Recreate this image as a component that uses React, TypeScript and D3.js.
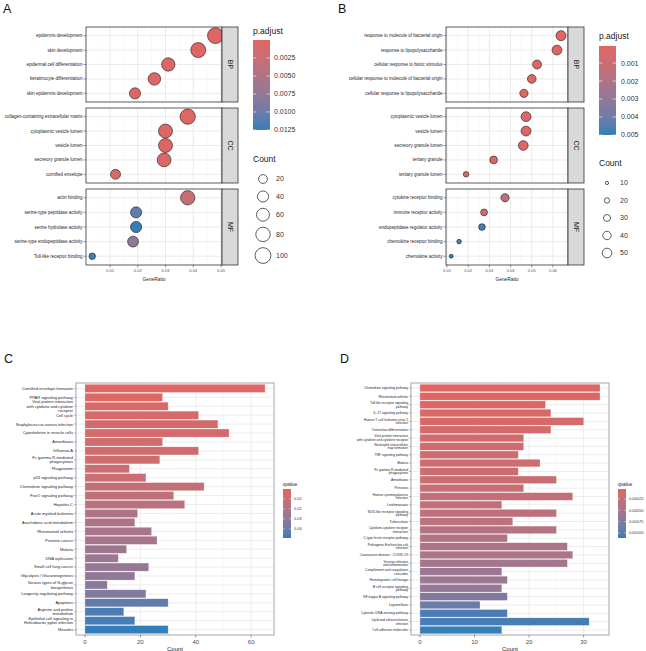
import React from 'react';
import * as d3 from 'd3';

const FONT = '"Liberation Sans", Arial, Helvetica, sans-serif';
const LOW = '#e06663';
const HIGH = '#327eba';
const ONTS = ['BP', 'CC', 'MF'];

// ---- panel A : GO dot plot ----
const aTerms = [
  'epidermis development', 'skin development', 'epidermal cell differentiation',
  'keratinocyte differentiation', 'skin epidermis development',
  'collagen-containing extracellular matrix', 'cytoplasmic vesicle lumen', 'vesicle lumen',
  'secretory granule lumen', 'cornified envelope',
  'actin binding', 'serine-type peptidase activity', 'serine hydrolase activity',
  'serine-type endopeptidase activity', 'Toll-like receptor binding',
];
const aOnt = ['BP', 'BP', 'BP', 'BP', 'BP', 'CC', 'CC', 'CC', 'CC', 'CC', 'MF', 'MF', 'MF', 'MF', 'MF'];
const aRatio = [0.048, 0.0418, 0.031, 0.026, 0.019, 0.038, 0.030, 0.030, 0.0295, 0.012, 0.038, 0.0194, 0.0194, 0.0183, 0.0036];
const aCount = [101, 88, 65, 55, 40, 92, 73, 73, 71, 29, 78, 40, 40, 37, 7];
const aPadj = [0.0001, 0.0002, 0.0003, 0.0004, 0.0005, 0.0002, 0.0004, 0.0004, 0.0005, 0.001, 0.0028, 0.0105, 0.0124, 0.0075, 0.0122];
const aRatioTicks = [0.01, 0.02, 0.03, 0.04, 0.05];
const aPadjTicks = [0.0025, 0.005, 0.0075, 0.01, 0.0125];
const aCountTicks = [20, 40, 60, 80, 100];

// ---- panel B : GO dot plot ----
const bTerms = [
  'response to molecule of bacterial origin', 'response to lipopolysaccharide',
  'cellular response to biotic stimulus', 'cellular response to molecule of bacterial origin',
  'cellular response to lipopolysaccharide',
  'cytoplasmic vesicle lumen', 'vesicle lumen', 'secretory granule lumen', 'tertiary granule',
  'tertiary granule lumen',
  'cytokine receptor binding', 'immune receptor activity', 'endopeptidase regulator activity',
  'chemokine receptor binding', 'chemokine activity',
];
const bOnt = aOnt;
const bRatio = [0.0638, 0.0619, 0.0525, 0.050, 0.0463, 0.0473, 0.0473, 0.046, 0.032, 0.019, 0.0374, 0.0275, 0.0265, 0.0157, 0.012];
const bCount = [54, 52, 44, 42, 39, 52, 52, 51, 35, 21, 39, 29, 28, 16, 13];
const bPadj = [0.0001, 0.0001, 0.0002, 0.0002, 0.0003, 0.0002, 0.0002, 0.0003, 0.0004, 0.0006, 0.0016, 0.0006, 0.0048, 0.0046, 0.0049];
const bRatioTicks = [0.01, 0.02, 0.03, 0.04, 0.05, 0.06];
const bPadjTicks = [0.001, 0.002, 0.003, 0.004, 0.005];
const bCountTicks = [10, 20, 30, 40, 50];

// ---- panel C : KEGG bar plot ----
const cTerms = [
  'Cornified envelope formation', 'PPAR signaling pathway',
  'Viral protein interaction\nwith cytokine and cytokine\nreceptor', 'Cell cycle',
  'Staphylococcus aureus infection', 'Cytoskeleton in muscle cells', 'Amoebiasis', 'Influenza A',
  'Fc gamma R-mediated\nphagocytosis', 'Phagosome', 'p53 signaling pathway',
  'Chemokine signaling pathway', 'FoxO signaling pathway', 'Hepatitis C', 'Acute myeloid leukemia',
  'Arachidonic acid metabolism', 'Rheumatoid arthritis', 'Prostate cancer', 'Malaria',
  'DNA replication', 'Small cell lung cancer', 'Glycolysis / Gluconeogenesis',
  'Various types of N-glycan\nbiosynthesis', 'Longevity regulating pathway', 'Apoptosis',
  'Arginine and proline\nmetabolism', 'Epithelial cell signaling in\nHelicobacter pylori infection', 'Measles',
];
const cCount = [65, 28, 30, 41, 48, 52, 28, 41, 27, 16, 22, 43, 32, 36, 19, 18, 24, 26, 15, 12, 23, 18, 8, 22, 30, 14, 18, 30];
const cQ = [0.0005, 0.002, 0.003, 0.004, 0.005, 0.0055, 0.006, 0.007, 0.008, 0.009, 0.010, 0.012, 0.013, 0.016, 0.020, 0.021, 0.022, 0.023, 0.025, 0.026, 0.028, 0.030, 0.032, 0.034, 0.042, 0.046, 0.047, 0.049];
const cCountTicks = [0, 20, 40, 60];
const cQTicks = [0.01, 0.02, 0.03, 0.04];

// ---- panel D : KEGG bar plot ----
const dTerms = [
  'Chemokine signaling pathway', 'Rheumatoid arthritis', 'Toll-like receptor signaling\npathway',
  'IL-17 signaling pathway', 'Human T-cell leukemia virus 1\ninfection', 'Osteoclast differentiation',
  'Viral protein interaction\nwith cytokine and cytokine receptor', 'Neutrophil extracellular\ntrap formation',
  'TNF signaling pathway', 'Malaria', 'Fc gamma R-mediated\nphagocytosis', 'Amoebiasis', 'Pertussis',
  'Human cytomegalovirus\ninfection', 'Leishmaniasis', 'NOD-like receptor signaling\npathway', 'Tuberculosis',
  'Cytokine-cytokine receptor\ninteraction', 'C-type lectin receptor pathway', 'Pathogenic Escherichia coli\ninfection',
  'Coronavirus disease - COVID-19', 'Yersinia infection\nand inflammation', 'Complement and coagulation\ncascades',
  'Hematopoietic cell lineage', 'B cell receptor signaling\npathway', 'NF-kappa B signaling pathway',
  'Legionellosis', 'Cytosolic DNA-sensing pathway', 'Lipid and atherosclerosis\ninfection',
  'Cell adhesion molecules',
];
const dCount = [33, 33, 23, 24, 30, 24, 19, 19, 18, 22, 18, 25, 19, 28, 15, 25, 17, 25, 16, 27, 28, 27, 15, 16, 15, 16, 11, 16, 31, 15];
const dQ = [0.00004, 0.00005, 0.00008, 0.0001, 0.00012, 0.00014, 0.00016, 0.00018, 0.0002, 0.00021, 0.00022, 0.00023, 0.00025, 0.0003, 0.00032, 0.00034, 0.00036, 0.00042, 0.00045, 0.00048, 0.0005, 0.00055, 0.0006, 0.00062, 0.00065, 0.00078, 0.0009, 0.00104, 0.00106, 0.0011];
const dCountTicks = [0, 10, 20, 30];
const dQTicks = [0.00025, 0.0005, 0.00075, 0.001];

const grad = (domain: [number, number]) =>
  d3.scaleLinear<string>().domain(domain).range([LOW, HIGH]).interpolate(d3.interpolateLab).clamp(true);

const sizeScale = (cd: [number, number], rr: [number, number]) => {
  const s = d3.scaleLinear().domain([Math.sqrt(cd[0]), Math.sqrt(cd[1])]).range(rr);
  return (c: number) => s(Math.sqrt(c));
};

function Lines({ s, x, y, size, anchor = 'end', lh }: any) {
  const parts = String(s).split('\n');
  const step = lh ?? size * 1.05;
  const top = y - ((parts.length - 1) * step) / 2;
  return (
    <text x={x} y={top} fontSize={size} textAnchor={anchor} fill="#1c1c2c">
      {parts.map((p, i) => (
        <tspan key={i} x={x} dy={i === 0 ? '0.35em' : step}>{p}</tspan>
      ))}
    </text>
  );
}

function DotPlot(p: any) {
  const x = d3.scaleLinear().domain(p.xDomain).range([p.x0, p.x1]);
  const minor = p.xTicks.map((v: number) => v - 0.005).concat([p.xTicks[p.xTicks.length - 1] + 0.005])
    .filter((v: number) => v > p.xDomain[0] && v < p.xDomain[1]);
  const last = p.rows[p.rows.length - 1][1];
  return (
    <g>
      {ONTS.map((o, fi) => {
        const [y0, y1] = p.rows[fi];
        const idx = p.terms.map((_: string, i: number) => i).filter((i: number) => p.ont[i] === o);
        const y = d3.scalePoint<number>().domain(idx).range([y0, y1]).padding(0.6);
        const cid = `clip-${p.id}-${o}`;
        return (
          <g key={o}>
            <clipPath id={cid}><rect x={p.x0} y={y0} width={p.x1 - p.x0} height={y1 - y0} /></clipPath>
            <rect x={p.x0} y={y0} width={p.x1 - p.x0} height={y1 - y0} fill="#fff" />
            {minor.map((v: number) => (
              <line key={'m' + v} x1={x(v)} x2={x(v)} y1={y0} y2={y1} stroke="#f3f3f3" strokeWidth={0.5} />
            ))}
            {p.xTicks.map((v: number) => (
              <line key={'M' + v} x1={x(v)} x2={x(v)} y1={y0} y2={y1} stroke="#e6e6e6" strokeWidth={0.8} />
            ))}
            {idx.map((i: number) => (
              <line key={'h' + i} x1={p.x0} x2={p.x1} y1={y(i)} y2={y(i)} stroke="#e6e6e6" strokeWidth={0.8} />
            ))}
            <g clipPath={`url(#${cid})`}>
              {idx.map((i: number) => (
                <circle key={'c' + i} cx={x(p.ratio[i])} cy={y(i)} r={p.r(p.count[i])}
                  fill={p.color(p.padj[i])} stroke="#1a1a1a" strokeWidth={0.6} />
              ))}
            </g>
            <rect x={p.x0} y={y0} width={p.x1 - p.x0} height={y1 - y0} fill="none" stroke="#333" strokeWidth={0.8} />
            <rect x={p.x1} y={y0} width={p.stripW} height={y1 - y0} fill="#d9d9d9" stroke="#333" strokeWidth={0.8} />
            <text transform={`translate(${p.x1 + p.stripW / 2},${(y0 + y1) / 2}) rotate(90)`} textAnchor="middle"
              dy="0.35em" fontSize={7} fill="#1a1a1a">{o}</text>
            {idx.map((i: number) => (
              <g key={'l' + i}>
                <line x1={p.x0 - 2.5} x2={p.x0} y1={y(i)} y2={y(i)} stroke="#333" strokeWidth={0.5} />
                <Lines s={p.terms[i]} x={p.x0 - 3.5} y={y(i)} size={4.5} />
              </g>
            ))}
          </g>
        );
      })}
      {p.xTicks.map((v: number) => (
        <g key={'t' + v}>
          <line x1={x(v)} x2={x(v)} y1={last} y2={last + 2.5} stroke="#333" strokeWidth={0.5} />
          <text x={x(v)} y={last + 6.5} fontSize={4} textAnchor="middle" fill="#4d4d4d">{d3.format('.2f')(v)}</text>
        </g>
      ))}
      <text x={(p.x0 + p.x1) / 2} y={last + 15.5} fontSize={4.8} textAnchor="middle" fill="#222">GeneRatio</text>
    </g>
  );
}

function ColorBar(p: any) {
  const y = d3.scaleLinear().domain(p.domain).range([p.y0, p.y1]);
  const stops = d3.range(0, 1.0001, 0.1);
  return (
    <g>
      <defs>
        <linearGradient id={p.id} x1="0" y1="0" x2="0" y2="1">
          {stops.map(t => (
            <stop key={t} offset={t} stopColor={p.color(p.domain[0] + t * (p.domain[1] - p.domain[0]))} />
          ))}
        </linearGradient>
      </defs>
      <text x={p.x} y={p.y0 - p.titleGap} fontSize={p.titleSize} fill="#1a1a1a">{p.title}</text>
      <rect x={p.x} y={p.y0} width={p.w} height={p.y1 - p.y0} fill={`url(#${p.id})`} />
      {p.ticks.map((v: number) => (
        <g key={v}>
          <line x1={p.x} x2={p.x + p.w / 5} y1={y(v)} y2={y(v)} stroke="#fff" strokeWidth={0.6} />
          <line x1={p.x + p.w * 0.8} x2={p.x + p.w} y1={y(v)} y2={y(v)} stroke="#fff" strokeWidth={0.6} />
          <text x={p.x + p.w + p.labelGap} y={y(v)} dy="0.35em" fontSize={p.labelSize} fill="#333">{p.fmt(v)}</text>
        </g>
      ))}
    </g>
  );
}

function SizeLegend(p: any) {
  let cy = p.y;
  const ys: number[] = [];
  p.ticks.forEach((c: number, i: number) => {
    const h = Math.max(17.5, 2 * p.r(c) + 6);
    if (i > 0) {
      const hp = Math.max(17.5, 2 * p.r(p.ticks[i - 1]) + 6);
      cy += (h + hp) / 2;
    }
    ys.push(cy);
  });
  return (
    <g>
      <text x={p.x} y={p.titleY} fontSize={8.5} fill="#1a1a1a">Count</text>
      {p.ticks.map((c: number, i: number) => (
        <g key={c}>
          <circle cx={p.cx} cy={ys[i]} r={p.r(c)} fill="#fff" stroke="#1a1a1a" strokeWidth={0.7} />
          <text x={p.lx} y={ys[i]} dy="0.35em" fontSize={7} fill="#333">{c}</text>
        </g>
      ))}
    </g>
  );
}

function BarPlot(p: any) {
  const x = d3.scaleLinear().domain(p.xDomain).range([p.x0, p.x1]);
  const y = d3.scalePoint<number>().domain(p.terms.map((_: string, i: number) => i)).range([p.y0, p.y1]).padding(0.6);
  const bw = y.step() * 0.9;
  const minor = p.ticks.map((v: number) => v + (p.ticks[1] - p.ticks[0]) / 2).filter((v: number) => x(v) < p.x1);
  return (
    <g>
      <rect x={p.x0} y={p.y0} width={p.x1 - p.x0} height={p.y1 - p.y0} fill="#fff" />
      {minor.map((v: number) => (
        <line key={'m' + v} x1={x(v)} x2={x(v)} y1={p.y0} y2={p.y1} stroke="#f3f3f3" strokeWidth={0.5} />
      ))}
      {p.ticks.map((v: number) => (
        <line key={'M' + v} x1={x(v)} x2={x(v)} y1={p.y0} y2={p.y1} stroke="#e8e8e8" strokeWidth={0.8} />
      ))}
      {p.terms.map((_: string, i: number) => (
        <line key={'h' + i} x1={p.x0} x2={p.x1} y1={y(i)} y2={y(i)} stroke="#e8e8e8" strokeWidth={0.8} />
      ))}
      {p.terms.map((_: string, i: number) => (
        <rect key={'b' + i} x={x(0)} y={(y(i) as number) - bw / 2} width={x(p.counts[i]) - x(0)} height={bw}
          fill={p.color(p.q[i])} stroke="#f4dede" strokeWidth={0.3} />
      ))}
      <rect x={p.x0} y={p.y0} width={p.x1 - p.x0} height={p.y1 - p.y0} fill="none" stroke="#a6a6a6" strokeWidth={1} />
      {p.terms.map((t: string, i: number) => (
        <g key={'l' + i}>
          <line x1={p.x0 - 2} x2={p.x0} y1={y(i)} y2={y(i)} stroke="#555" strokeWidth={0.4} />
          <Lines s={t} x={p.x0 - 3} y={y(i)} size={p.labelSize} lh={p.labelSize * 1.08} />
        </g>
      ))}
      {p.ticks.map((v: number) => (
        <g key={'t' + v}>
          <line x1={x(v)} x2={x(v)} y1={p.y1} y2={p.y1 + 2.5} stroke="#333" strokeWidth={0.5} />
          <text x={x(v)} y={p.y1 + 8.5} fontSize={6} textAnchor="middle" fill="#4d4d4d">{v}</text>
        </g>
      ))}
      <text x={(p.x0 + p.x1) / 2} y={p.y1 + 15.5} fontSize={6} textAnchor="middle" fill="#222">Count</text>
    </g>
  );
}

const facetRows: [number, number][] = [[27, 102], [108, 183], [189, 265]];

export default function App() {
  const aColor = grad([0.00001, 0.0125]);
  const bColor = grad([0.00005, 0.005]);
  const cColor = grad([0.0002, 0.049]);
  const dColor = grad([0.00003, 0.00111]);
  const aR = sizeScale([5, 110], [3, 8.2]);
  const bR = sizeScale([10, 50], [1.6, 4.8]);
  return (
    <svg width={646} height={651} style={{ position: 'absolute', left: 0, top: 0, fontFamily: FONT }}>
      <rect width={646} height={651} fill="#fff" />
      <text x={3} y={13} fontSize={12.5} fill="#111">A</text>
      <text x={338} y={13} fontSize={12.5} fill="#111">B</text>
      <text x={4} y={363} fontSize={12.5} fill="#111">C</text>
      <text x={340} y={363} fontSize={12.5} fill="#111">D</text>

      <DotPlot id="a" terms={aTerms} ont={aOnt} ratio={aRatio} count={aCount} padj={aPadj}
        x0={86} x1={222} xDomain={[0.00135, 0.05036]} xTicks={aRatioTicks} rows={facetRows}
        stripW={16} r={aR} color={aColor} />
      <ColorBar id="ga" x={253} y0={40} y1={130} w={17} domain={[0.00001, 0.0125]} color={aColor}
        ticks={aPadjTicks} fmt={d3.format('.4f')} title="p.adjust" titleGap={6} titleSize={8.5}
        labelGap={4} labelSize={7} />
      <SizeLegend x={253} titleY={162} cx={263} lx={276} y={179} ticks={aCountTicks} r={aR} />

      <DotPlot id="b" terms={bTerms} ont={bOnt} ratio={bRatio} count={bCount} padj={bPadj}
        x0={446} x1={568} xDomain={[0.00953, 0.0671]} xTicks={bRatioTicks} rows={facetRows}
        stripW={16} r={bR} color={bColor} />
      <ColorBar id="gb" x={599} y0={46} y1={135} w={17} domain={[0.00005, 0.005]} color={bColor}
        ticks={bPadjTicks} fmt={d3.format('.3f')} title="p.adjust" titleGap={7} titleSize={8.5}
        labelGap={5} labelSize={7} />
      <SizeLegend x={599} titleY={166} cx={607} lx={620} y={183} ticks={bCountTicks} r={bR} />

      <BarPlot terms={cTerms} counts={cCount} q={cQ} color={cColor} x0={76} x1={274} y0={383} y1={635}
        xDomain={[-3.25, 68.25]} ticks={cCountTicks} labelSize={4} />
      <ColorBar id="gc" x={283} y0={489} y1={538} w={8} domain={[0.0002, 0.049]} color={cColor}
        ticks={cQTicks} fmt={d3.format('.2f')} title="qvalue" titleGap={3} titleSize={4.8}
        labelGap={3} labelSize={4} />

      <BarPlot terms={dTerms} counts={dCount} q={dQ} color={dColor} x0={411} x1={609} y0={383} y1={635}
        xDomain={[-1.65, 34.65]} ticks={dCountTicks} labelSize={3.3} />
      <ColorBar id="gd" x={618} y0={489} y1={538} w={8} domain={[0.00003, 0.00111]} color={dColor}
        ticks={dQTicks} fmt={d3.format('.5f')} title="qvalue" titleGap={3} titleSize={4.8}
        labelGap={3} labelSize={4} />
    </svg>
  );
}
